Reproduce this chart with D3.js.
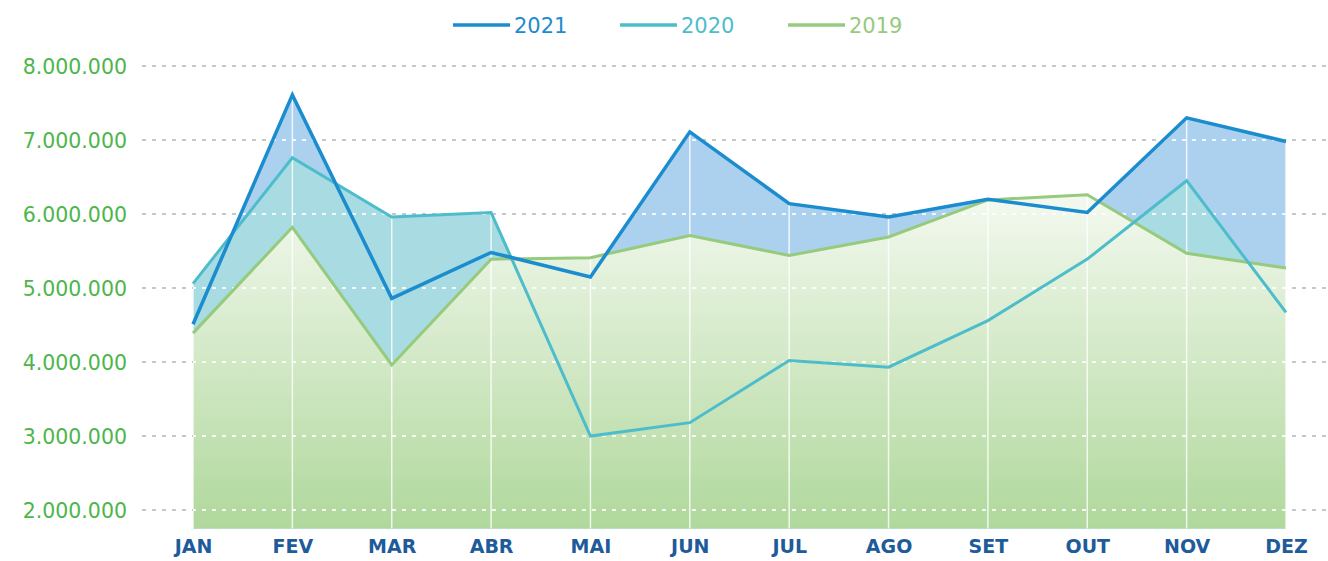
<!DOCTYPE html>
<html>
<head>
<meta charset="utf-8">
<script src="https://cdn.jsdelivr.net/npm/d3@7"></script>
<style>
  body { margin: 0; background: #fff; }
  .axis .domain, .axis line { display: none; }
</style>
</head>
<body>
<script>
var w = 1328;
var h = 561;

// data
var months = ["JAN", "FEV", "MAR", "ABR", "MAI", "JUN", "JUL", "AGO", "SET", "OUT", "NOV", "DEZ"];
var y2021 = [4510000, 7610000, 4860000, 5480000, 5150000, 7110000, 6140000, 5960000, 6200000, 6020000, 7300000, 6980000];
var y2020 = [5060000, 6760000, 5960000, 6020000, 3000000, 3180000, 4020000, 3930000, 4560000, 5390000, 6450000, 4670000];
var y2019 = [4390000, 5820000, 3960000, 5390000, 5410000, 5710000, 5440000, 5690000, 6190000, 6260000, 5470000, 5270000];
var yTicks = [2000000, 3000000, 4000000, 5000000, 6000000, 7000000, 8000000];
var seriesNames = ["2021", "2020", "2019"];

var lineColors = {"2021": "#1b8cce", "2020": "#4dbdcb", "2019": "#96ca7c"};
var fillColors = {"2021": "#acd1ef", "2020": "#a8dbe2"};

var br = d3.formatLocale({decimal: ",", thousands: ".", grouping: [3], currency: ["R$", ""]});

var xScale = d3.scalePoint()
  .domain(months)
  .range([193, 1286]);

var yScale = d3.scaleLinear()
  .domain([1750000, 8000000])
  .range([528.5, 66]);

var svg = d3.select("body")
  .append("svg")
  .attr("width", w)
  .attr("height", h);

var defs = svg.append("defs");

var grad = defs.append("linearGradient")
  .attr("id", "green")
  .attr("gradientUnits", "userSpaceOnUse")
  .attr("x1", 0).attr("x2", 0)
  .attr("y1", yScale(6300000)).attr("y2", yScale(1750000));
grad.append("stop").attr("offset", "0%").attr("stop-color", "#f4f9f0");
grad.append("stop").attr("offset", "100%").attr("stop-color", "#b0d89c");

var area = function(vals) {
  return d3.area()
    .x(function(d, i) { return xScale(months[i]); })
    .y0(yScale(1750000))
    .y1(function(d) { return yScale(d); })(vals);
};

var line = function(vals) {
  return d3.line()
    .x(function(d, i) { return xScale(months[i]); })
    .y(function(d) { return yScale(d); })(vals);
};

// clip = union of the filled areas
var clip = defs.append("clipPath").attr("id", "areaClip");
[y2021, y2020, y2019].forEach(function(v) {
  clip.append("path").attr("d", area(v));
});

// grey dashed gridlines
svg.append("g")
  .selectAll("line")
  .data(yTicks)
  .enter()
  .append("line")
  .attr("x1", 142)
  .attr("x2", w)
  .attr("y1", function(d) { return yScale(d); })
  .attr("y2", function(d) { return yScale(d); })
  .attr("stroke", "#c4c8cc")
  .attr("stroke-width", 2)
  .attr("stroke-dasharray", "4,6");

// areas
svg.append("path").attr("d", area(y2021)).attr("fill", fillColors["2021"]);
svg.append("path").attr("d", area(y2020)).attr("fill", fillColors["2020"]);
svg.append("path").attr("d", area(y2019)).attr("fill", "url(#green)");

// white grid inside the areas
var inner = svg.append("g").attr("clip-path", "url(#areaClip)");
inner.selectAll("line.h")
  .data(yTicks)
  .enter()
  .append("line")
  .attr("class", "h")
  .attr("x1", 142)
  .attr("x2", w)
  .attr("y1", function(d) { return yScale(d); })
  .attr("y2", function(d) { return yScale(d); })
  .attr("stroke", "#fff")
  .attr("stroke-opacity", 0.85)
  .attr("stroke-width", 2)
  .attr("stroke-dasharray", "4,6");
inner.selectAll("line.v")
  .data(months)
  .enter()
  .append("line")
  .attr("class", "v")
  .attr("x1", function(d) { return xScale(d); })
  .attr("x2", function(d) { return xScale(d); })
  .attr("y1", 60)
  .attr("y2", 530)
  .attr("stroke", "#fff")
  .attr("stroke-opacity", 0.8)
  .attr("stroke-width", 1.5);

// lines
[["2019", y2019], ["2020", y2020], ["2021", y2021]].forEach(function(s) {
  svg.append("path")
    .attr("d", line(s[1]))
    .attr("fill", "none")
    .attr("stroke", lineColors[s[0]])
    .attr("stroke-width", s[0] == "2021" ? 3.5 : 3)
    .attr("stroke-linejoin", "miter");
});

// axes
var yAxis = d3.axisLeft(yScale)
  .tickValues(yTicks)
  .tickSize(0)
  .tickPadding(0)
  .tickFormat(br.format(",d"));

svg.append("g")
  .attr("class", "axis")
  .attr("transform", "translate(127,0)")
  .call(yAxis)
  .selectAll("text")
  .attr("fill", "#4db64a")
  .attr("font-family", "DejaVu Sans")
  .attr("font-size", 20.5)
  .attr("font-weight", 500)
  .attr("dy", "0.36em");

var xAxis = d3.axisBottom(xScale)
  .tickSize(0)
  .tickPadding(0);

svg.append("g")
  .attr("class", "axis")
  .attr("transform", "translate(0,536)")
  .call(xAxis)
  .selectAll("text")
  .attr("fill", "#1d5b9b")
  .attr("font-family", "DejaVu Sans")
  .attr("font-size", 19)
  .attr("font-weight", "bold")
  .attr("dy", "0.9em");

// legend
var legendX = {"2021": 453, "2020": 620, "2019": 788};
var legend = svg.append("g");
seriesNames.forEach(function(n) {
  legend.append("line")
    .attr("x1", legendX[n])
    .attr("x2", legendX[n] + 57)
    .attr("y1", 25)
    .attr("y2", 25)
    .attr("stroke", lineColors[n])
    .attr("stroke-width", 3.5);
  legend.append("text")
    .attr("x", legendX[n] + 61)
    .attr("y", 33)
    .text(n)
    .attr("font-family", "DejaVu Sans")
    .attr("font-size", 21)
    .attr("font-weight", 500)
    .attr("fill", lineColors[n]);
});
</script>
</body>
</html>
